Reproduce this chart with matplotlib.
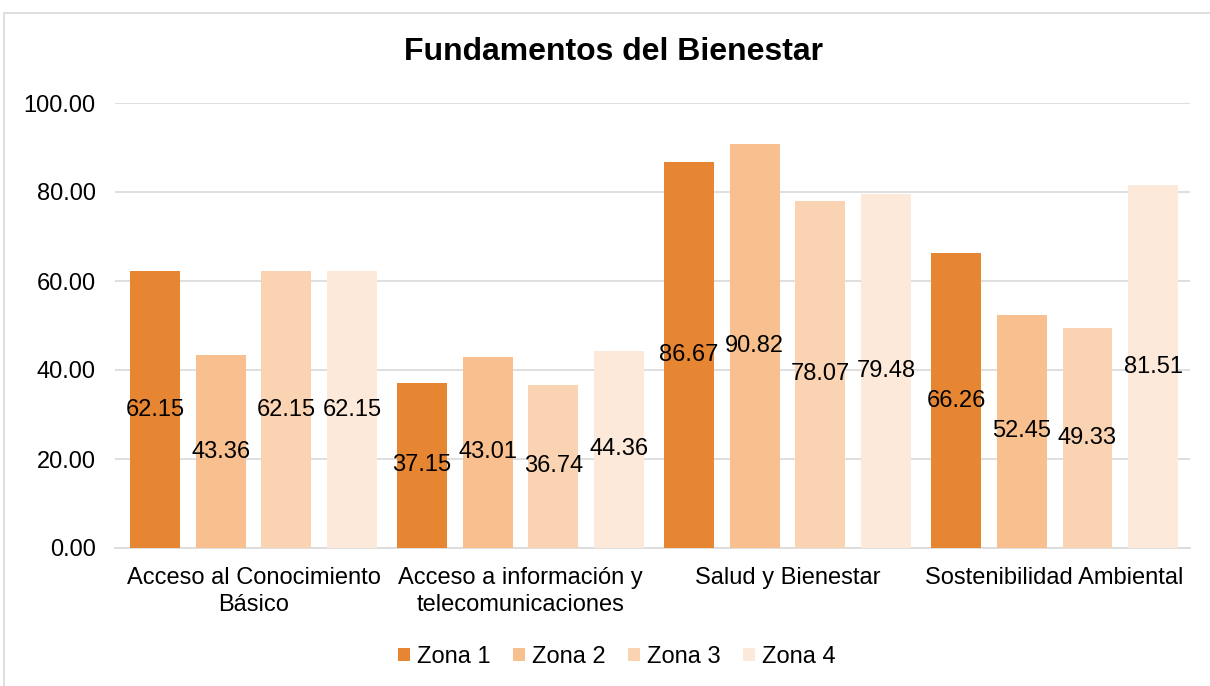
import numpy as np
import matplotlib.pyplot as plt
from matplotlib.patches import Rectangle

plt.rcParams['font.family'] = ['Liberation Sans', 'DejaVu Sans']

categories = ['Acceso al Conocimiento\nBásico', 'Acceso a información y\ntelecomunicaciones',
              'Salud y Bienestar', 'Sostenibilidad Ambiental']
zonas = ['Zona 1', 'Zona 2', 'Zona 3', 'Zona 4']
zona1 = [62.15, 37.15, 86.67, 66.26]
zona2 = [43.36, 43.01, 90.82, 52.45]
zona3 = [62.15, 36.74, 78.07, 49.33]
zona4 = [62.15, 44.36, 79.48, 81.51]
colores = ['#E68633', '#F8C08F', '#FAD4B2', '#FCE9DA']

W, H = 1210, 686
fig = plt.figure(figsize=(W / 100, H / 100), dpi=100)
ax = fig.add_axes([115 / W, 1 - 548 / H, (1190 - 115) / W, (548 - 103) / H])

# borde del gráfico
fig.patches.append(Rectangle((4 / W, -0.1), 1.2, 1 - 13 / H + 0.1, transform=fig.transFigure,
                             fill=False, edgecolor='#D9D9D9', linewidth=1.2))

x = np.arange(len(categories))
paso = 0.246
ancho = 0.187
for i, (serie, nombre) in enumerate(zip([zona1, zona2, zona3, zona4], zonas)):
    pos = x + (i - 1.5) * paso
    bars = ax.bar(pos, serie, width=ancho, color=colores[i], label=nombre, zorder=3)
    for b, v in zip(bars, serie):
        ax.text(b.get_x() + b.get_width() / 2, v / 2, f'{v:.2f}', ha='center', va='center',
                fontsize=17, color='black', zorder=4)

ax.set_xlim(-0.519, 3.507)
ax.set_ylim(0, 100)
ax.set_yticks(np.arange(0, 101, 20))
ax.set_yticklabels([f'{t:.2f}' for t in np.arange(0, 101, 20)], fontsize=17, color='#000000')
ax.set_xticks(x)
ax.set_xticklabels(categories, fontsize=17, linespacing=1.25)
ax.tick_params(axis='both', length=0)
ax.tick_params(axis='y', pad=14)
ax.tick_params(axis='x', pad=14)
ax.grid(axis='y', color='#D9D9D9', linewidth=1.2, zorder=0)
for s in ['top', 'right', 'left']:
    ax.spines[s].set_visible(False)
ax.spines['bottom'].set_color('#D9D9D9')
ax.spines['bottom'].set_linewidth(1.2)

fig.text(614 / W, 1 - 52 / H, 'Fundamentos del Bienestar', ha='center', va='center',
         fontsize=23, fontweight='bold')

fig.legend(loc='center', bbox_to_anchor=(617 / W, 1 - 657 / H), ncol=4, frameon=False,
           fontsize=17, handlelength=0.5, handleheight=0.5, handletextpad=0.3, columnspacing=0.95)

fig.savefig('out.png', dpi=100)
